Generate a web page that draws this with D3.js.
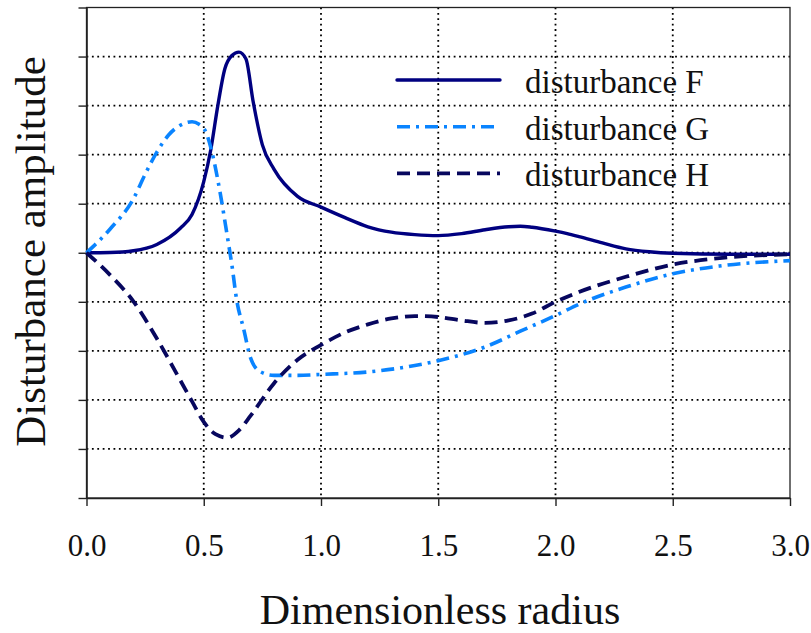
<!DOCTYPE html>
<html>
<head>
<meta charset="utf-8">
<script src="https://cdn.jsdelivr.net/npm/d3@7"></script>
<style>
  body { margin: 0; background: #fff; }
  svg { display: block; }
  text { font-family: "Liberation Serif", "DejaVu Serif", serif; fill: #111; }
</style>
</head>
<body>
<svg width="811" height="633"></svg>
<script>
// radius values (x) and amplitudes
const radiusF = [0, 0.1, 0.2, 0.3, 0.4, 0.45, 0.5, 0.53, 0.56, 0.59, 0.62, 0.65, 0.68, 0.71, 0.75, 0.8, 0.9, 1.0, 1.1, 1.2, 1.3, 1.4, 1.5, 1.6, 1.7, 1.8, 1.85, 1.9, 2.0, 2.05, 2.1, 2.2, 2.3, 2.4, 2.5, 2.75, 3.0];
const ampF    = [0, 0.005, 0.04, 0.17, 0.5, 0.78, 1.45, 2.1, 3.0, 3.75, 4.02, 4.09, 3.95, 3.1, 2.2, 1.7, 1.15, 0.93, 0.72, 0.53, 0.42, 0.37, 0.35, 0.39, 0.47, 0.53, 0.54, 0.52, 0.44, 0.39, 0.33, 0.2, 0.08, 0.02, -0.01, -0.03, -0.03];

const radiusG = [0, 0.1, 0.2, 0.25, 0.3, 0.35, 0.4, 0.45, 0.48, 0.51, 0.54, 0.57, 0.6, 0.62, 0.64, 0.67, 0.7, 0.74, 0.8, 0.9, 1.0, 1.2, 1.4, 1.5, 1.7, 1.85, 2.0, 2.1, 2.3, 2.5, 2.7, 3.0];
const ampG    = [0, 0.48, 1.1, 1.6, 2.05, 2.4, 2.6, 2.67, 2.62, 2.45, 1.95, 1.22, 0.35, -0.25, -0.95, -1.55, -2.15, -2.42, -2.5, -2.5, -2.48, -2.43, -2.3, -2.2, -1.92, -1.6, -1.28, -1.05, -0.7, -0.43, -0.27, -0.16];

const radiusH = [0, 0.1, 0.2, 0.3, 0.4, 0.45, 0.5, 0.55, 0.6, 0.65, 0.7, 0.8, 0.9, 1.0, 1.1, 1.2, 1.3, 1.4, 1.5, 1.6, 1.7, 1.8, 1.9, 2.0, 2.1, 2.3, 2.5, 2.7, 3.0];
const ampH    = [0, -0.45, -0.99, -1.75, -2.6, -3.03, -3.45, -3.7, -3.77, -3.62, -3.32, -2.66, -2.18, -1.88, -1.63, -1.46, -1.34, -1.29, -1.31, -1.38, -1.43, -1.38, -1.24, -1.0, -0.8, -0.49, -0.24, -0.11, -0.03];

const xTicks = [0, 0.5, 1, 1.5, 2, 2.5, 3];
const yTicks = [-5, -4, -3, -2, -1, 0, 1, 2, 3, 4, 5];
const seriesNames = ["disturbance F", "disturbance G", "disturbance H"];

const serif = '"Liberation Serif", "DejaVu Serif", serif';
const svg = d3.select("svg");
const margin = { top: 7.5, right: 21, bottom: 135, left: 86.5 };
const W = 811 - margin.left - margin.right;
const H = 633 - margin.top - margin.bottom;

const x = d3.scaleLinear().domain([0, 3]).range([0, W]);
const y = d3.scaleLinear().domain([-5, 5]).range([H, 0]);

const g = svg.append("g").attr("transform", `translate(${margin.left},${margin.top})`);

// dotted grid
g.selectAll(".vgrid").data(xTicks.slice(1, -1)).enter().append("line")
    .attr("x1", d => x(d)).attr("x2", d => x(d))
    .attr("y1", 0).attr("y2", H)
    .attr("stroke", "#000").attr("stroke-width", 1.8)
    .attr("stroke-dasharray", "1.8,3.6");
g.selectAll(".hgrid").data(yTicks.slice(1, -1)).enter().append("line")
    .attr("x1", 0).attr("x2", W)
    .attr("y1", d => y(d)).attr("y2", d => y(d))
    .attr("stroke", "#000").attr("stroke-width", 1.8)
    .attr("stroke-dasharray", "1.8,3.6");

// box
g.append("rect").attr("width", W).attr("height", H)
    .attr("fill", "none").attr("stroke", "#222").attr("stroke-width", 1.3);

// axes
const xAxis = g.append("g").attr("transform", `translate(0,${H})`)
    .call(d3.axisBottom(x).tickValues(xTicks).tickFormat(d3.format(".1f"))
        .tickSizeInner(8).tickSizeOuter(0).tickPadding(28));
const yAxis = g.append("g")
    .call(d3.axisLeft(y).tickValues(yTicks).tickFormat("")
        .tickSizeInner(8).tickSizeOuter(0));
[xAxis, yAxis].forEach(a => {
    a.attr("font-family", serif);
    a.select(".domain").attr("stroke", "#222").attr("stroke-width", 1.6);
    a.selectAll(".tick line").attr("stroke", "#222").attr("stroke-width", 1.4);
});
xAxis.selectAll(".tick text")
    .style("font-family", serif)
    .style("font-size", "31px").attr("fill", "#111");

// curves
const line = d3.line().x(d => x(d[0])).y(d => y(d[1])).curve(d3.curveMonotoneX);
const series = [
    { xs: radiusF, ys: ampF, color: "#000080", width: 3.4, dash: null },
    { xs: radiusG, ys: ampG, color: "#0A84FF", width: 3.6, dash: "13,6,3,6" },
    { xs: radiusH, ys: ampH, color: "#07075E", width: 3.8, dash: "13,7" }
];
series.forEach(s => {
    g.append("path")
        .datum(s.xs.map((v, i) => [v, s.ys[i]]))
        .attr("d", line)
        .attr("fill", "none")
        .attr("stroke", s.color)
        .attr("stroke-width", s.width)
        .attr("stroke-dasharray", s.dash);
});

// legend
const legend = svg.append("g").attr("transform", "translate(397,80)");
series.forEach((s, i) => {
    legend.append("line")
        .attr("x1", 0).attr("x2", 103)
        .attr("y1", i * 46.7).attr("y2", i * 46.7)
        .attr("stroke", s.color).attr("stroke-width", s.width)
        .attr("stroke-dasharray", s.dash)
        .attr("stroke-linecap", s.dash ? "butt" : "round");
    legend.append("text")
        .attr("x", 128).attr("y", i * 46.7 + 13)
        .style("font-family", serif)
        .style("font-size", "33px")
        .text(seriesNames[i]);
});

// axis titles
svg.append("text")
    .attr("x", 440).attr("y", 624)
    .attr("text-anchor", "middle")
    .style("font-family", serif)
    .style("font-size", "42px")
    .text("Dimensionless radius");
svg.append("text")
    .attr("transform", "translate(45,251.5) rotate(-90)")
    .attr("text-anchor", "middle")
    .style("font-family", serif)
    .style("font-size", "43px")
    .text("Disturbance amplitude");
</script>
</body>
</html>
